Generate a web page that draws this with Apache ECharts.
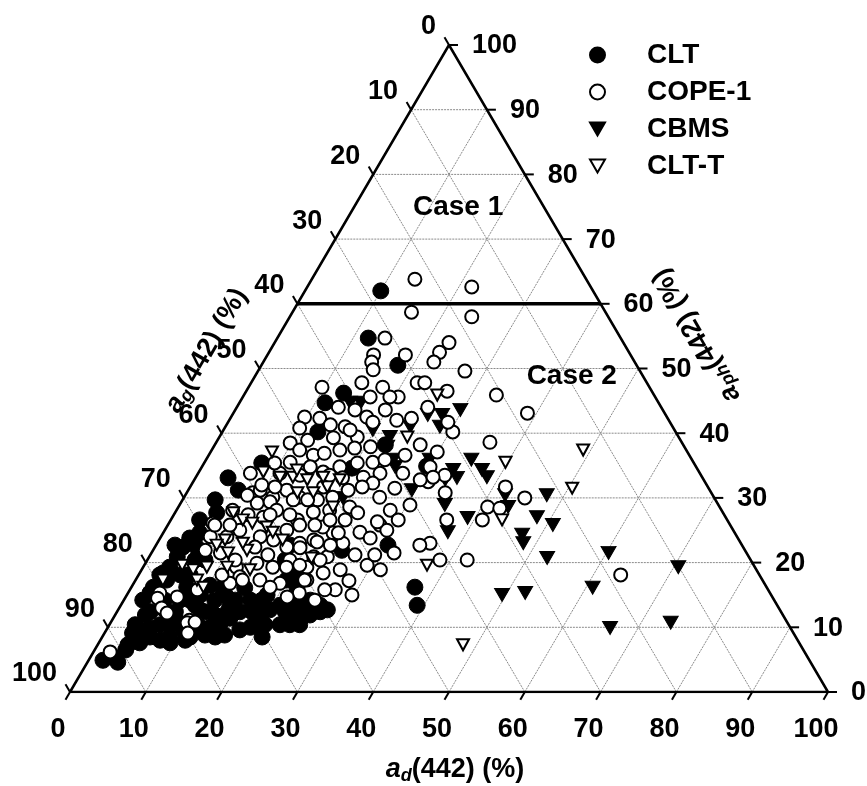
<!DOCTYPE html>
<html>
<head>
<meta charset="utf-8">
<script src="https://cdn.jsdelivr.net/npm/echarts@6/dist/echarts.min.js"></script>
<style>
  html, body { margin: 0; padding: 0; background: #fff; }
  #chart { width: 867px; height: 786px; }
</style>
</head>
<body>
<div id="chart"></div>
<script>
// Ternary diagram of the absorption budget at 442 nm:
// a_g (CDOM), a_d (detritus) and a_ph (phytoplankton), in percent.
const tickValues = [0, 10, 20, 30, 40, 50, 60, 70, 80, 90, 100];
const caseBoundary = 60;               // a_ph(442) % separating Case 1 / Case 2
const seriesNames = ['CLT', 'COPE-1', 'CBMS', 'CLT-T'];

// Each point: [a_d(442) %, a_ph(442) %];  a_g(442) = 100 - a_d - a_ph
const clt = [
  [10.0, 62.0], [12.0, 54.7], [18.0, 50.5], [13.0, 46.2], [11.3, 44.7],
  [37.4, 16.2], [39.1, 13.4], [27.6, 12.7], [30.6, 22.7], [29.6, 34.9],
  [4.0, 4.6], [4.0, 7.3], [5.4, 7.6], [9.4, 7.6], [1.9, 4.9],
  [12.6, 40.2], [7.6, 35.4], [6.6, 31.2], [5.5, 27.7], [4.8, 24.6],
  [3.9, 23.8], [3.7, 22.4], [5.5, 22.4], [3.7, 20.9], [3.5, 19.3],
  [3.1, 18.4], [3.3, 15.8], [2.9, 15.3], [4.1, 17.3], [2.9, 16.2],
  [18.5, 15.0], [21.0, 13.4], [24.0, 12.7], [26.3, 13.4], [23.4, 11.1],
  [24.6, 14.2], [7.3, 16.2], [10.8, 12.7], [8.5, 11.1], [10.1, 9.6],
  [12.2, 10.0], [13.5, 10.0], [14.5, 10.7], [15.4, 11.4], [17.6, 9.6],
  [18.8, 10.0], [4.8, 8.8], [4.1, 6.5], [3.0, 5.4], [3.7, 9.1],
  [5.6, 9.9], [9.7, 15.0], [12.0, 14.2], [14.4, 13.4], [16.7, 14.2],
  [18.9, 12.4], [10.2, 16.5], [13.0, 15.0], [8.9, 8.5], [6.7, 10.4],
  [17.7, 22.7], [18.2, 20.4], [20.7, 18.1], [22.6, 14.7], [19.9, 17.3],
  [19.9, 34.6], [22.5, 38.2], [24.9, 21.9], [4.0, 11.9], [7.9, 8.0],
  [11.2, 8.0], [13.4, 8.8], [16.0, 8.8], [20.5, 10.4], [22.5, 10.4],
  [20.0, 12.7], [16.2, 12.4], [13.2, 11.9], [9.8, 13.4], [7.4, 14.2],
  [6.1, 18.1], [7.6, 20.4], [25.7, 11.9], [25.1, 10.4],
  [6.3, 8.5], [11.6, 8.5], [14.9, 8.5], [21.1, 8.5], [3.4, 10.4],
  [8.0, 10.4], [19.6, 10.4], [23.8, 10.4], [4.4, 12.4], [7.7, 12.4],
  [11.6, 12.4], [14.6, 12.4], [17.8, 12.4], [22.2, 12.4], [26.8, 12.4],
  [5.4, 14.2], [8.7, 14.2], [14.7, 14.2], [18.2, 14.2], [21.9, 14.2],
  [12.0, 16.1], [15.0, 16.1], [21.9, 16.1], [2.8, 18.1], [6.8, 18.1],
  [20.0, 18.1], [2.5, 22.7], [2.5, 14.2], [5.5, 18.1], [6.3, 20.4],
  [3.8, 26.6], [4.3, 29.7], [4.3, 33.1]
];

const cope1 = [
  [13.6, 63.8], [21.7, 62.6], [15.7, 58.7], [24.0, 58.0], [23.0, 54.0],
  [22.5, 52.5], [22.5, 51.0], [14.2, 54.7], [18.2, 52.1], [27.3, 49.6],
  [33.3, 45.9], [38.8, 43.1], [36.1, 38.6], [41.6, 31.7], [45.0, 30.0],
  [41.1, 26.6], [40.8, 28.6], [42.5, 28.4], [42.2, 20.4], [63.6, 18.1],
  [38.6, 20.4], [36.0, 23.0], [34.8, 22.7], [32.0, 21.5], [29.4, 19.6],
  [29.7, 15.0], [28.2, 17.2], [28.0, 25.8], [29.3, 25.0], [27.4, 26.3],
  [28.2, 28.1],
  [14.0, 52.1], [14.3, 51.0], [15.1, 49.8], [9.7, 47.1], [14.6, 47.8],
  [17.7, 47.1], [16.8, 45.6], [13.4, 44.0], [17.9, 42.5], [15.8, 41.0],
  [9.7, 42.5], [11.8, 42.3], [9.9, 40.8], [15.1, 39.3], [18.2, 39.4],
  [19.1, 41.7], [20.5, 45.6], [21.9, 47.8], [22.1, 42.0], [23.9, 42.3],
  [9.8, 38.5], [11.9, 38.9], [13.8, 36.6], [15.1, 36.9], [16.9, 37.4],
  [18.7, 37.7], [20.7, 37.9], [11.6, 37.4], [6.9, 33.8], [10.8, 33.8],
  [14.3, 34.8], [16.4, 34.0], [18.2, 34.8], [20.2, 35.4], [22.2, 35.5],
  [22.1, 33.2], [24.0, 33.8], [27.0, 33.8],
  [8.7, 30.8], [11.7, 30.1], [13.0, 31.2], [15.2, 30.1], [17.8, 29.7],
  [19.6, 30.1], [5.8, 26.1], [8.7, 24.0], [9.9, 25.0], [13.1, 24.0],
  [15.1, 23.5], [17.4, 22.4], [18.8, 23.0], [20.4, 23.5], [22.4, 24.6],
  [24.5, 23.0], [6.5, 24.0], [9.1, 21.5], [12.3, 19.3], [14.7, 19.9],
  [17.1, 19.3], [18.8, 20.4], [21.6, 19.3], [23.5, 20.9], [4.2, 15.3],
  [6.8, 14.7], [6.0, 12.7], [10.2, 11.1], [8.9, 15.8], [13.5, 17.8],
  [16.4, 17.3], [19.3, 16.8], [22.6, 17.3], [22.6, 15.3], [21.3, 14.7],
  [18.3, 16.2],
  [6.2, 25.8], [4.3, 14.5], [5.6, 13.0], [6.7, 12.2], [10.1, 10.7],
  [11.1, 10.8], [11.0, 9.1], [2.2, 6.2], [12.7, 16.8], [14.1, 17.3],
  [7.4, 28.1], [9.8, 27.4], [10.1, 29.2], [11.7, 29.4], [13.2, 28.1],
  [12.0, 27.0], [8.2, 30.4], [9.5, 31.2],
  [17.5, 33.5], [19.4, 33.1], [23.8, 32.3], [21.1, 31.2], [22.7, 31.7],
  [25.8, 30.1], [17.6, 31.7], [16.5, 29.7], [14.6, 29.7], [18.2, 27.8],
  [16.7, 26.6], [16.1, 25.0], [20.2, 28.1], [22.6, 28.6], [24.1, 27.7],
  [23.1, 24.6], [20.6, 25.5], [21.0, 23.2], [25.9, 24.7], [27.7, 23.8],
  [19.2, 22.3], [21.7, 20.9], [18.9, 19.3], [22.3, 17.3], [24.2, 18.4],
  [32.7, 33.5], [31.0, 32.5], [34.1, 30.8], [29.8, 32.8],
  [22.9, 47.8], [26.5, 46.5], [30.4, 40.2], [25.2, 44.0], [19.4, 45.6],
  [29.9, 37.1], [29.0, 41.7], [30.1, 34.8], [31.3, 33.2], [36.4, 26.6],
  [27.1, 15.8],
  [13.2, 22.4], [15.5, 21.2], [17.4, 25.8], [19.4, 25.8], [21.0, 26.6],
  [23.0, 26.6], [23.0, 22.7], [27.0, 21.2], [26.2, 18.9], [25.7, 15.8],
  [29.6, 21.2], [31.5, 18.9], [30.0, 26.6], [30.4, 28.9], [27.1, 31.5],
  [23.6, 35.9], [25.9, 36.6], [27.1, 38.2], [16.7, 40.5], [19.8, 43.6],
  [15.8, 43.6], [13.7, 41.3], [9.3, 35.4], [11.3, 35.5], [9.3, 32.0],
  [11.2, 31.7], [13.6, 33.5], [11.6, 20.4], [11.0, 18.1], [6.9, 21.9],
  [12.7, 27.4], [15.3, 27.4], [8.2, 25.8], [22.8, 20.4], [20.5, 19.6],
  [25.2, 14.2]
];

const cbms = [
  [35.0, 35.9], [37.2, 34.3], [38.4, 33.2], [47.7, 30.4], [48.1, 27.0],
  [50.8, 25.8], [47.5, 24.3], [48.3, 23.0], [52.6, 20.7], [60.3, 21.5],
  [70.6, 19.3], [60.9, 16.1], [49.5, 15.0], [52.4, 15.3], [66.3, 9.9],
  [73.9, 10.7], [35.0, 28.9], [37.5, 24.7], [39.0, 26.9], [42.2, 30.4],
  [43.5, 28.6], [28.3, 41.0], [25.8, 42.8], [33.4, 34.3], [34.5, 33.1],
  [33.1, 32.8], [27.7, 42.8], [29.7, 43.6], [22.5, 39.4], [19.7, 40.5],
  [24.7, 35.9], [29.5, 31.2], [29.5, 35.9], [16.0, 44.7], [14.6, 44.7],
  [24.4, 41.0], [22.9, 37.9], [25.5, 34.8], [21.0, 30.0]
];

const cltT = [
  [25.5, 45.9], [49.0, 37.4], [39.7, 35.5], [50.5, 31.5], [43.7, 26.6],
  [37.3, 19.6], [48.2, 7.3], [21.5, 20.7],
  [8.1, 37.1], [8.5, 34.0], [11.1, 33.2], [12.8, 33.2], [14.9, 32.8],
  [16.7, 30.8], [18.1, 31.7], [14.6, 30.8], [20.4, 28.6], [7.7, 27.7],
  [9.5, 26.6], [11.0, 26.1], [13.2, 25.5], [14.4, 24.7], [12.4, 21.9],
  [8.7, 23.5], [5.0, 19.6], [6.8, 18.9], [8.4, 19.3], [8.1, 17.3],
  [9.5, 16.2], [3.6, 17.3], [11.3, 23.0], [16.3, 23.5], [8.0, 22.7],
  [11.1, 19.3], [14.3, 18.9], [10.1, 21.5], [16.8, 33.2], [19.2, 32.8],
  [12.8, 34.3], [24.8, 39.4]
];

const FONT = '"Liberation Sans", Arial, Helvetica, sans-serif';
const LABEL_FONT = 'bold 27px ' + FONT;
const CASE_FONT = 'bold 28px ' + FONT;

// ternary [a_d, a_ph] -> cartesian [x along base, height]
const toXY = ([d, p]) => [d + p / 2, p];

// grid segments for a_ph, a_d and a_g at every inner tick
const gridSegments = [];
tickValues.filter(k => k > 0 && k < 100).forEach(k => {
  gridSegments.push([...toXY([0, k]), ...toXY([100 - k, k])]);      // constant a_ph
  gridSegments.push([...toXY([k, 0]), ...toXY([k, 100 - k])]);      // constant a_d
  gridSegments.push([...toXY([100 - k, 0]), ...toXY([0, 100 - k])]); // constant a_g
});

const frame = [[0, 0], [100, 0], [0, 100], [0, 0]].map(toXY);
const boundary = [[0, caseBoundary], [100 - caseBoundary, caseBoundary]].map(toXY);

const richTitle = {
  i: { font: 'italic bold 27px ' + FONT, fill: '#000', lineHeight: 30 },
  s: { font: 'italic bold 18px ' + FONT, fill: '#000', lineHeight: 17, verticalAlign: 'bottom' },
  n: { font: LABEL_FONT, fill: '#000', lineHeight: 30 }
};
const axisTitle = sub => `{i|a}{s|${sub}}{n|(442) (%)}`;

function renderAnnotations(params, api) {
  const at = (d, p) => api.coord(toXY([d, p]));
  const children = [];
  const tick = (pt, dx, dy) => ({
    type: 'line',
    shape: { x1: pt[0], y1: pt[1], x2: pt[0] + dx, y2: pt[1] + dy },
    style: { stroke: '#000', lineWidth: 2 }
  });
  const label = (txt, x, y, align, font) => ({
    type: 'text', x, y,
    style: { text: String(txt), font: font || LABEL_FONT, fill: '#000', align, verticalAlign: 'middle' }
  });
  tickValues.forEach(v => {
    const b = at(v, 0);          // a_d along the base
    children.push(tick(b, -4.5, 7.8), label(v, b[0] - 12, b[1] + 38, 'center'));
    const l = at(0, 100 - v);    // a_g along the left side
    children.push(tick(l, -4.5, -7.8), label(v, l[0] - 13, l[1] - 18, 'right'));
    const r = at(100 - v, v);    // a_ph along the right side
    children.push(tick(r, 9, 0), label(v, r[0] + 23, r[1] + 1, 'left'));
  });
  const title = (text, x, y, rotation) => ({
    type: 'text', x, y, rotation,
    style: { text, rich: richTitle, align: 'center', verticalAlign: 'middle' }
  });
  const base = api.coord([50, 0]);
  const leftMid = api.coord([25, 50]);
  const rightMid = api.coord([75, 50]);
  children.push(title(axisTitle('d'), base[0] + 6, base[1] + 78, 0));
  children.push(title(axisTitle('g'), leftMid[0] - 53, leftMid[1] - 18, Math.PI / 3));
  children.push(title(axisTitle('ph'), rightMid[0] + 58, rightMid[1] - 33, 2 * Math.PI / 3));
  const c1 = at(13.7, 75), c2 = at(41.7, 49);
  children.push(label('Case 1', c1[0], c1[1] + 1, 'center', CASE_FONT));
  children.push(label('Case 2', c2[0], c2[1] + 1, 'center', CASE_FONT));
  return { type: 'group', children };
}

const downTriangle = 'path://M0,0L16,0L8,14Z';

const chart = echarts.init(document.getElementById('chart'), null, { renderer: 'canvas' });
chart.setOption({
  animation: false,
  backgroundColor: '#fff',
  grid: { left: 70, right: 39, top: 45, bottom: 94 },
  xAxis: { type: 'value', min: 0, max: 100, show: false },
  yAxis: { type: 'value', min: 0, max: 100, show: false },
  legend: {
    orient: 'vertical',
    left: 589, top: 41, padding: 0,
    itemWidth: 15, itemHeight: 15, itemGap: 9,
    data: seriesNames,
    textStyle: { fontFamily: FONT, fontSize: 28, fontWeight: 'bold', color: '#000', lineHeight: 28, padding: [0, 0, 0, 37] }
  },
  series: [
    {
      type: 'custom', name: 'grid', silent: true, z: 1,
      data: gridSegments,
      renderItem: (params, api) => {
        const a = api.coord([api.value(0), api.value(1)]);
        const b = api.coord([api.value(2), api.value(3)]);
        return {
          type: 'line',
          shape: { x1: a[0], y1: a[1], x2: b[0], y2: b[1] },
          style: { stroke: '#8a8a8a', lineWidth: 1, lineDash: [2, 1] }
        };
      }
    },
    {
      type: 'line', name: 'frame', silent: true, z: 2, symbol: 'none',
      data: frame, lineStyle: { color: '#000', width: 2.5 }
    },
    {
      type: 'line', name: 'boundary', silent: true, z: 2, symbol: 'none',
      data: boundary, lineStyle: { color: '#000', width: 3.5 }
    },
    {
      type: 'custom', name: 'annotations', silent: true, z: 2,
      data: [[0, 0]],
      renderItem: renderAnnotations
    },
    {
      type: 'scatter', name: 'CLT', z: 3, symbol: 'circle', symbolSize: 16,
      data: clt.map(toXY),
      itemStyle: { color: '#000', borderColor: '#000', borderWidth: 1, opacity: 1 }
    },
    {
      type: 'scatter', name: 'CBMS', z: 4, symbol: downTriangle, symbolSize: [15, 13],
      data: cbms.map(toXY),
      itemStyle: { color: '#000', borderColor: '#000', borderWidth: 1, opacity: 1 }
    },
    {
      type: 'scatter', name: 'COPE-1', z: 5, symbol: 'circle', symbolSize: 13,
      data: cope1.map(toXY),
      itemStyle: { color: '#fff', borderColor: '#000', borderWidth: 2, opacity: 1 }
    },
    {
      type: 'scatter', name: 'CLT-T', z: 6, symbol: downTriangle, symbolSize: [12, 11],
      data: cltT.map(toXY),
      itemStyle: { color: '#fff', borderColor: '#000', borderWidth: 2, opacity: 1 }
    }
  ]
});
</script>
</body>
</html>
